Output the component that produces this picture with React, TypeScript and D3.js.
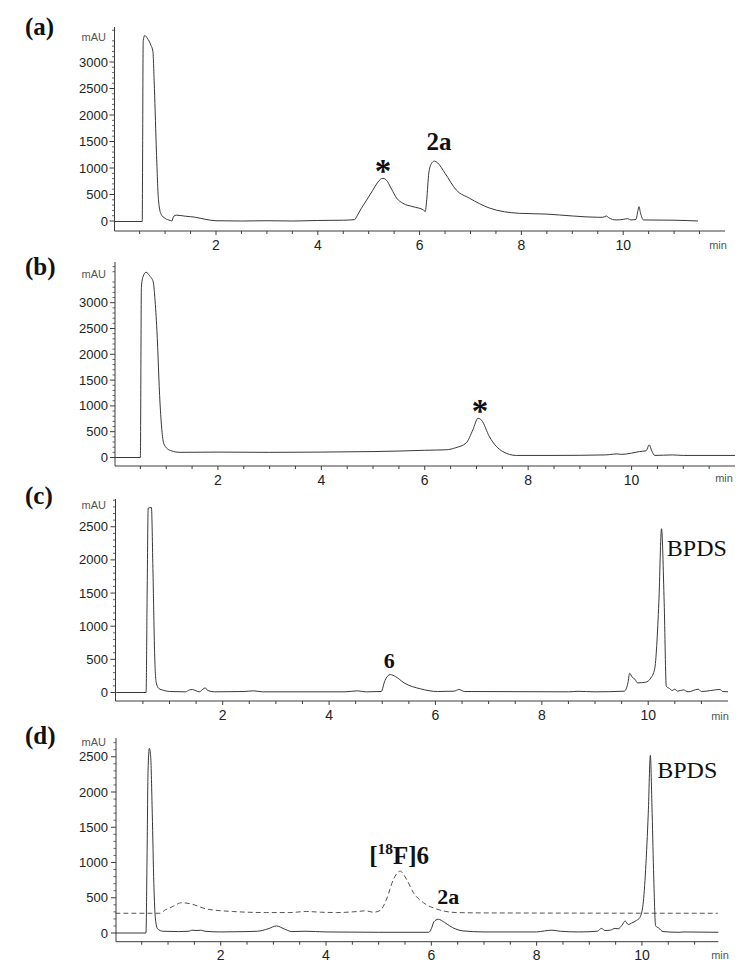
import React from "react";
import * as d3 from "d3";

// ---------- data ----------
const aTime = [0, 0.55, 0.57, 0.6, 0.65, 0.72, 0.76, 0.79, 0.83, 0.87, 0.92, 1.0, 1.1, 1.13, 1.17, 1.22, 1.4, 1.6, 1.8, 2.0, 2.5, 3.0, 3.5, 4.0, 4.5, 4.72, 4.78, 4.85, 4.96, 5.08, 5.17, 5.23, 5.28, 5.34, 5.45, 5.55, 5.67, 5.87, 6.08, 6.11, 6.14, 6.18, 6.23, 6.29, 6.35, 6.5, 6.72, 6.98, 7.37, 7.96, 8.5, 9.0, 9.5, 9.6, 9.67, 9.72, 9.86, 10.0, 10.09, 10.15, 10.25, 10.29, 10.31, 10.34, 10.4, 11.0, 11.47];
const aValue = [-10, -10, 3400, 3500, 3450, 3320, 3200, 2500, 1300, 400, 130, 50, 10, 0, 90, 110, 90, 70, 30, 5, 0, 5, 0, 10, 15, 25, 110, 230, 396, 580, 720, 785, 805, 780, 600, 430, 335, 270, 207, 175, 400, 900, 1080, 1130, 1100, 900, 585, 430, 245, 145, 130, 95, 70, 70, 95, 60, 20, 30, 45, 20, 30, 200, 270, 150, 20, 15, 0];

const bTime = [0, 0.5, 0.52, 0.55, 0.61, 0.68, 0.75, 0.78, 0.82, 0.88, 0.95, 1.02, 1.1, 1.27, 2.0, 3.0, 4.0, 5.0, 5.5, 6.0, 6.42, 6.6, 6.8, 6.93, 7.03, 7.1, 7.25, 7.38, 7.51, 7.77, 8.5, 9.5, 9.65, 9.72, 9.8, 10.0, 10.15, 10.28, 10.34, 10.39, 10.45, 10.79, 11.0, 12.0];
const bValue = [0, 0, 3300, 3500, 3590, 3520, 3400, 3100, 2465, 1055, 280, 170, 130, 100, 105, 100, 105, 115, 125, 140, 150, 190, 280, 535, 760, 720, 405, 220, 115, 40, 40, 50, 65, 70, 60, 85, 115, 130, 245, 130, 40, 50, 40, 40];

const cTime = [0, 0.56, 0.58, 0.6, 0.66, 0.69, 0.72, 0.75, 0.8, 0.88, 1.0, 1.3, 1.38, 1.43, 1.5, 1.56, 1.63, 1.67, 1.72, 1.85, 2.4, 2.58, 2.75, 4.3, 4.53, 4.7, 4.98, 5.05, 5.15, 5.25, 5.41, 5.72, 6.04, 6.35, 6.44, 6.55, 8.5, 8.68, 9.0, 9.55, 9.62, 9.65, 9.7, 9.75, 9.8, 9.95, 10.05, 10.12, 10.2, 10.25, 10.3, 10.34, 10.4, 10.45, 10.5, 10.55, 10.66, 10.75, 10.94, 11.0, 11.35, 11.4, 11.5];
const cValue = [0, 0, 1500, 2780, 2790, 1800, 600, 150, 60, 35, 15, 10, 40, 45, 25, 10, 50, 70, 30, 10, 15, 25, 10, 10, 25, 10, 15, 180, 270, 240, 145, 55, 15, 20, 45, 15, 10, 18, 10, 20, 150, 290, 230, 200, 145, 155, 220, 350, 1360, 2470, 1360, 95, 60, 30, 50, 20, 40, 10, 50, 15, 45, 15, 10];

const dTime = [0, 0.58, 0.6, 0.62, 0.645, 0.67, 0.7, 0.73, 0.76, 0.8, 0.9, 1.2, 1.4, 1.45, 1.55, 1.62, 1.7, 2.0, 2.5, 2.7, 2.9, 3.06, 3.2, 3.35, 3.6, 4.0, 5.0, 5.5, 5.95, 6.0, 6.05, 6.13, 6.25, 6.35, 6.45, 6.6, 7.0, 8.0, 8.15, 8.29, 8.45, 8.8, 9.15, 9.23, 9.3, 9.4, 9.49, 9.55, 9.62, 9.68, 9.74, 9.8, 9.9, 9.96, 10.02, 10.07, 10.12, 10.16, 10.19, 10.22, 10.26, 10.32, 10.4, 10.7, 10.8, 11.45];
const dValue = [0, 0, 1000, 2300, 2620, 2500, 1700, 700, 200, 60, 25, 20, 25, 40, 35, 40, 25, 15, 20, 25, 60, 100, 60, 20, 25, 15, 10, 10, 10, 60, 160, 195, 150, 100, 60, 30, 15, 15, 30, 40, 25, 15, 25, 65, 35, 40, 65, 60, 110, 170, 120, 140, 180, 220, 400, 900, 1700, 2520, 1800, 900, 100, 70, 20, 10, 15, 10];

const dRadioTime = [0, 0.85, 0.95, 1.0, 1.1, 1.26, 1.45, 1.73, 2.23, 2.87, 3.3, 3.63, 3.9, 4.2, 4.6, 4.75, 4.9, 5.03, 5.15, 5.28, 5.41, 5.53, 5.66, 5.85, 6.1, 6.48, 7.0, 11.44];
const dRadioValue = [280, 280, 330, 345, 380, 430, 410, 340, 305, 290, 290, 305, 295, 290, 305, 315, 295, 320, 480, 760, 877, 760, 572, 430, 340, 290, 285, 280];

const xTickLabels = [2, 4, 6, 8, 10];
const yTicksHigh = [0, 500, 1000, 1500, 2000, 2500, 3000];
const yTicksLow = [0, 500, 1000, 1500, 2000, 2500];

// ---------- layout ----------
type Trace = { t: number[]; v: number[]; dashed?: boolean };
type Note = { parts: { text: string; sup?: boolean }[]; t: number; v: number; size: number; bold: boolean; anchor: string };
type PanelCfg = {
  label: string; labelY: number;
  yAxisX: number; yTop: number; xAxisY: number;
  x0: number; x1: number; tMax: number;
  y0: number; pxPer1000: number; yTicks: number[]; mauY: number;
  minX: number; minY: number;
  traces: Trace[]; notes: Note[];
};

const panels: PanelCfg[] = [
  {
    label: "(a)", labelY: 35, yAxisX: 114.5, yTop: 27, xAxisY: 231,
    x0: 114.2, x1: 725, tMax: 12, y0: 221, pxPer1000: 53, yTicks: yTicksHigh, mauY: 37,
    minX: 718, minY: 245,
    traces: [{ t: aTime, v: aValue }],
    notes: [
      { parts: [{ text: "*" }], t: 5.28, v: 735, size: 33, bold: true, anchor: "middle" },
      { parts: [{ text: "2a" }], t: 6.38, v: 1340, size: 25, bold: true, anchor: "middle" },
    ],
  },
  {
    label: "(b)", labelY: 275, yAxisX: 115, yTop: 262, xAxisY: 466,
    x0: 114.5, x1: 735, tMax: 12, y0: 457.5, pxPer1000: 51.6, yTicks: yTicksHigh, mauY: 274,
    minX: 724, minY: 478,
    traces: [{ t: bTime, v: bValue }],
    notes: [{ parts: [{ text: "*" }], t: 7.07, v: 690, size: 33, bold: true, anchor: "middle" }],
  },
  {
    label: "(c)", labelY: 504, yAxisX: 115.5, yTop: 499, xAxisY: 701,
    x0: 116.3, x1: 728, tMax: 11.5, y0: 692.5, pxPer1000: 66.3, yTicks: yTicksLow, mauY: 505,
    minX: 720, minY: 716,
    traces: [{ t: cTime, v: cValue }],
    notes: [
      { parts: [{ text: "6" }], t: 5.13, v: 365, size: 22, bold: true, anchor: "middle" },
      { parts: [{ text: "BPDS" }], t: 10.35, v: 2059, size: 24, bold: false, anchor: "start" },
    ],
  },
  {
    label: "(d)", labelY: 744, yAxisX: 116, yTop: 738, xAxisY: 941.7,
    x0: 115.4, x1: 718.3, tMax: 11.45, y0: 933, pxPer1000: 70.5, yTicks: yTicksLow, mauY: 742,
    minX: 720, minY: 955,
    traces: [{ t: dRadioTime, v: dRadioValue, dashed: true }, { t: dTime, v: dValue }],
    notes: [
      { parts: [{ text: "[" }, { text: "18", sup: true }, { text: "F]6" }], t: 4.82, v: 979, size: 25, bold: true, anchor: "start" },
      { parts: [{ text: "2a" }], t: 6.32, v: 411, size: 22, bold: true, anchor: "middle" },
      { parts: [{ text: "BPDS" }], t: 10.29, v: 2194, size: 24, bold: false, anchor: "start" },
    ],
  },
];

const SERIF = "'Liberation Serif', 'Times New Roman', serif";
const SANS = "'Liberation Sans', Arial, sans-serif";
const AXIS = "#3c3c3c";

function Panel({ p }: { p: PanelCfg }) {
  const x = d3.scaleLinear().domain([0, p.tMax]).range([p.x0, p.x1]);
  const y = d3.scaleLinear().domain([0, 1000]).range([p.y0, p.y0 - p.pxPer1000]);
  const yMaxVal = y.invert(p.yTop);
  const minorY = d3.range(0, yMaxVal, 100).filter((v) => v % 500 !== 0);
  const xTicks = d3.range(0.5, p.tMax + 0.001, 0.5);

  return (
    <g>
      <text x={25} y={p.labelY} fontFamily={SERIF} fontWeight="bold" fontSize={25} fill="#111">
        {p.label}
      </text>
      {/* y axis */}
      <line x1={p.yAxisX} x2={p.yAxisX} y1={p.yTop} y2={p.xAxisY} stroke={AXIS} strokeWidth={1} />
      {p.yTicks.map((v) => (
        <g key={"yt" + v}>
          <line x1={p.yAxisX - 5} x2={p.yAxisX} y1={y(v)} y2={y(v)} stroke={AXIS} strokeWidth={1} />
          <text x={108} y={y(v) + 4.5} textAnchor="end" fontFamily={SANS} fontSize={13} fill="#222">
            {v}
          </text>
        </g>
      ))}
      {minorY.map((v) => (
        <line key={"ym" + v} x1={p.yAxisX - 2.5} x2={p.yAxisX} y1={y(v)} y2={y(v)} stroke={AXIS} strokeWidth={0.8} />
      ))}
      <text x={106} y={p.mauY + 4} textAnchor="end" fontFamily={SANS} fontSize={11} fill="#555">
        mAU
      </text>
      {/* x axis */}
      <line x1={p.yAxisX} x2={p.x1} y1={p.xAxisY} y2={p.xAxisY} stroke={AXIS} strokeWidth={1} />
      {xTicks.filter((t) => x(t) < p.x1 - 1).map((t) => (
        <line key={"xt" + t} x1={x(t)} x2={x(t)} y1={p.xAxisY} y2={p.xAxisY + (t % 2 === 0 ? 4 : 3)} stroke={AXIS} strokeWidth={1} />
      ))}
      {xTickLabels.map((t) => (
        <text key={"xl" + t} x={x(t)} y={p.xAxisY + 18.5} textAnchor="middle" fontFamily={SANS} fontSize={14} fill="#222">
          {t}
        </text>
      ))}
      <text x={p.minX} y={p.minY + 4} textAnchor="middle" fontFamily={SANS} fontSize={11} fill="#555">
        min
      </text>
      {/* traces */}
      {p.traces.map((tr, k) => {
        const pts: [number, number][] = tr.t.map((t, i) => [x(t), y(tr.v[i])]);
        const path = d3.line().curve(d3.curveMonotoneX)(pts) || "";
        return (
          <path
            key={"tr" + k}
            d={path}
            fill="none"
            stroke={tr.dashed ? "#555" : "#383838"}
            strokeWidth={1}
            strokeDasharray={tr.dashed ? "5,3" : undefined}
          />
        );
      })}
      {/* annotations */}
      {p.notes.map((n, k) => (
        <text
          key={"n" + k}
          x={x(n.t)}
          y={y(n.v)}
          textAnchor={n.anchor}
          fontFamily={SERIF}
          fontWeight={n.bold ? "bold" : "normal"}
          fontSize={n.size}
          fill="#111"
        >
          {n.parts.map((pt, j) =>
            pt.sup ? (
              <tspan key={j} fontSize={n.size * 0.62} dy={-n.size * 0.38}>
                {pt.text}
              </tspan>
            ) : (
              <tspan key={j} dy={j > 0 && n.parts[j - 1].sup ? n.size * 0.38 : 0}>
                {pt.text}
              </tspan>
            )
          )}
        </text>
      ))}
    </g>
  );
}

export default function App() {
  return (
    <svg width={745} height={978} viewBox="0 0 745 978" style={{ display: "block", position: "absolute", left: 0, top: 0, background: "#fff" }}>
      <rect x={0} y={0} width={745} height={978} fill="#fff" />
      {panels.map((p) => (
        <Panel key={p.label} p={p} />
      ))}
    </svg>
  );
}
